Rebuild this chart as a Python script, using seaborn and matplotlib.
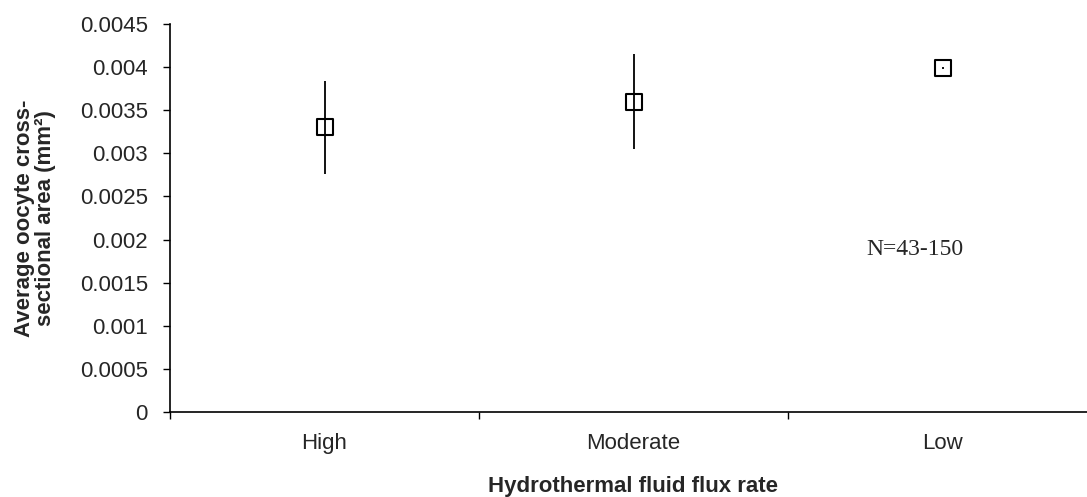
import numpy as np
import pandas as pd
import matplotlib
matplotlib.use("Agg")
import matplotlib.pyplot as plt
import seaborn as sns

# ---- Data ----
flux_rate = ["High", "Moderate", "Low"]
mean_area = [0.0033, 0.0036, 0.00399]
err_area = [0.00054, 0.00055, 0.00001]
y_ticks = [0, 0.0005, 0.001, 0.0015, 0.002, 0.0025, 0.003, 0.0035, 0.004, 0.0045]

df = pd.DataFrame({"flux": flux_rate, "area": mean_area, "err": err_area})

# ---- Style ----
sns.set_style("ticks")
plt.rcParams["font.family"] = ["Liberation Sans", "DejaVu Sans"]

fig = plt.figure(figsize=(10.87, 4.97), dpi=100)
ax = fig.add_axes([170 / 1087, 85 / 497, 927 / 1087, 388 / 497])

# ---- Error bars + open square markers ----
sns.scatterplot(data=df, x="flux", y="area", ax=ax, marker="s", s=140,
                facecolor="white", edgecolor="black", linewidth=1.5, zorder=3)
ax.errorbar(np.arange(len(df)), df["area"], yerr=df["err"], fmt="none",
            ecolor="black", elinewidth=1.3, capsize=0, zorder=4)

# ---- Axes ----
ax.set_xlim(-0.5, 2.5)
ax.set_ylim(0, 0.0045)
ax.set_yticks(y_ticks)
ax.set_yticklabels(["%g" % v for v in y_ticks], fontsize=16)

ax.set_xticks([-0.5, 0.5, 1.5, 2.5])
ax.set_xticklabels([])
ax.set_xticks(range(len(flux_rate)), minor=True)
ax.set_xticklabels(flux_rate, minor=True, fontsize=16)
ax.tick_params(axis="x", which="minor", length=0, pad=15)
ax.tick_params(axis="both", which="major", length=5, width=1, direction="out",
               color="black")
ax.tick_params(axis="y", which="major", pad=11)

for side in ["left", "bottom"]:
    ax.spines[side].set_linewidth(1.2)
    ax.spines[side].set_color("black")
sns.despine(ax=ax)

ax.set_xlabel("Hydrothermal fluid flux rate", fontsize=16, fontweight="bold", labelpad=16)
ax.set_ylabel("Average oocyte cross-\nsectional area (mm\u00b2)", fontsize=16,
              fontweight="bold", labelpad=17, linespacing=1.0)

ax.text(1.91, 0.00188, "N=43-150", fontsize=17, family=["Liberation Serif", "DejaVu Serif"],
        ha="center", va="center")

fig.savefig("out.png", dpi=100)
